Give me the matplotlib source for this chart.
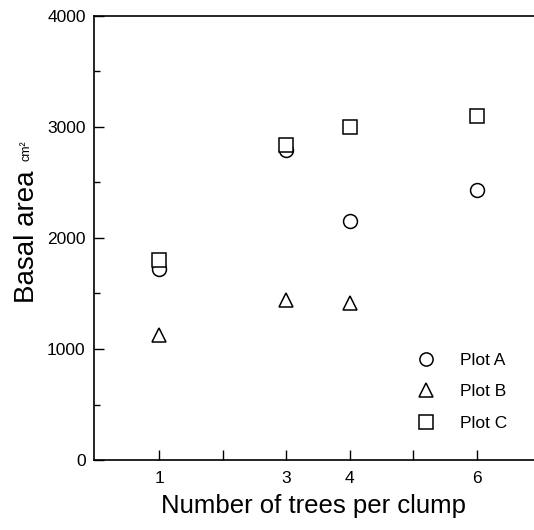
import matplotlib.pyplot as plt
from matplotlib.ticker import MultipleLocator

plt.rcParams["font.family"] = ["Liberation Sans", "DejaVu Sans"]

# trees per clump
x_vals = [1, 3, 4, 6]
# basal area (cm^2) per plot
plot_a = [1720, 2790, 2150, 2435]
plot_b = [1125, 1440, 1415]
plot_b_x = [1, 3, 4]
plot_c = [1800, 2835, 3000, 3095]

xtick_pos = [1, 2, 3, 4, 5, 6]
xtick_labels = ["1", "", "3", "4", "", "6"]
ytick_pos = [0, 1000, 2000, 3000, 4000]

fig = plt.figure(figsize=(5.34, 5.30), dpi=100)
ax = fig.add_axes([0.176, 0.132, 0.824, 0.838])

mk = dict(linestyle="none", markerfacecolor="white", markeredgecolor="black",
          markeredgewidth=1.1, color="black", markersize=10)
ax.plot(x_vals, plot_a, marker="o", label="Plot A", **mk)
ax.plot(plot_b_x, plot_b, marker="^", label="Plot B", **mk)
ax.plot(x_vals, plot_c, marker="s", label="Plot C", **mk)

ax.set_xlim(-0.03, 6.9)
ax.set_ylim(0, 4000)
ax.set_xticks(xtick_pos)
ax.set_xticklabels(xtick_labels)
ax.set_yticks(ytick_pos)
ax.yaxis.set_minor_locator(MultipleLocator(500))
ax.tick_params(axis="both", which="major", direction="in", length=7, width=1,
               labelsize=12.5, pad=6)
ax.tick_params(axis="x", which="major", pad=8)
ax.tick_params(axis="y", which="minor", direction="in", length=4, width=1)

ax.spines["right"].set_visible(False)
for s in ("left", "bottom", "top"):
    ax.spines[s].set_linewidth(1.2)

fig.text(0.050, 0.553, "Basal area", rotation=90, fontsize=20,
         ha="center", va="center")
fig.text(0.050, 0.716, "cm²", rotation=90, fontsize=9,
         ha="center", va="center")
ax.set_xlabel("Number of trees per clump", fontsize=18.5, labelpad=6)

ax.legend(loc="lower right", bbox_to_anchor=(0.975, 0.03), frameon=False,
          fontsize=12.5, handletextpad=1.2, labelspacing=0.95, markerscale=0.95,
          handlelength=1.5)

fig.savefig("out.png", dpi=100)
